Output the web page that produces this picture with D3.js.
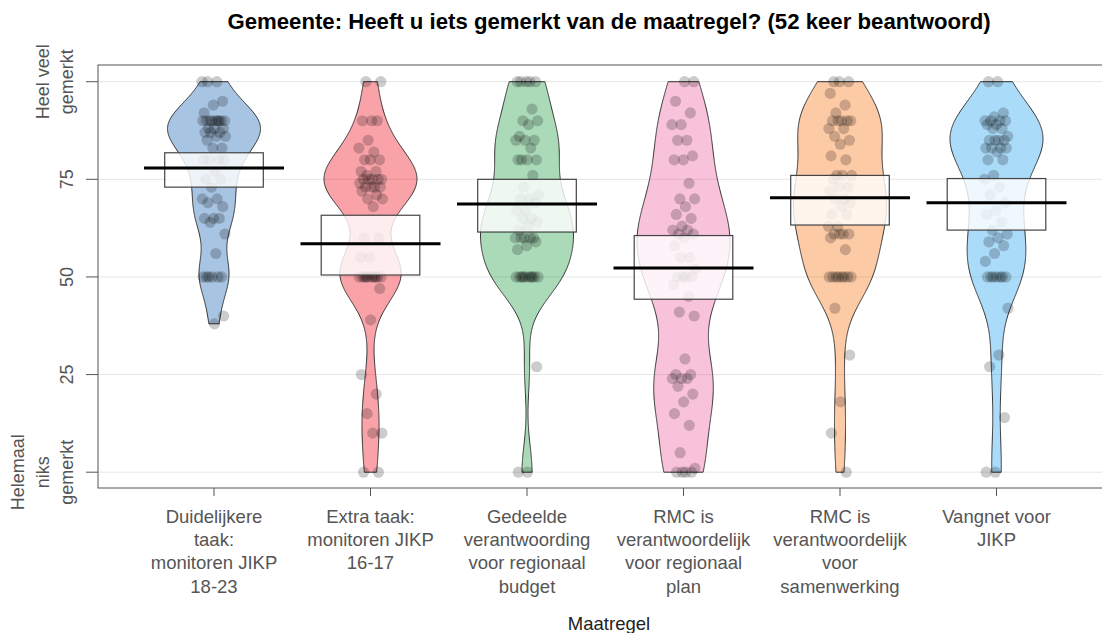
<!DOCTYPE html>
<html lang="en">
<head>
<meta charset="UTF-8">
<title>Gemeente: Heeft u iets gemerkt van de maatregel?</title>
<style>
  body { margin: 0; background: #fff; }
  svg { display: block; font-family: "Liberation Sans", Arial, sans-serif; }
  .grid line { stroke: #e6e6e6; stroke-width: 1; }
  .tick-lab { fill: #555; font-size: 18px; }
  .x-lab { fill: #555; font-size: 18.5px; }
</style>
</head>
<body>
<svg id="chart" width="1102" height="633"></svg>
<script src="https://d3js.org/d3.v7.min.js"></script>
<script>
// categories (x axis), line breaks as in the picture
const categories = [
  "Duidelijkere\ntaak:\nmonitoren JIKP\n18-23",
  "Extra taak:\nmonitoren JIKP\n16-17",
  "Gedeelde\nverantwoording\nvoor regionaal\nbudget",
  "RMC is\nverantwoordelijk\nvoor regionaal\nplan",
  "RMC is\nverantwoordelijk\nvoor\nsamenwerking",
  "Vangnet voor\nJIKP"
];

const duidelijkereTaak = [100,100,100,95,94,92,90,90,90,90,90,90,90,90,90,88,88,88,87,87,87,86,86,85,83,83,80,80,80,80,77,75,75,73,70,70,69,68,65,65,65,64,61,56,50,50,50,50,50,50,40,38];
const extraTaak = [100,100,90,90,90,85,83,82,80,80,80,77,77,76,75,75,75,75,75,74,73,73,73,73,72,71,70,70,68,60,60,55,55,50,50,50,50,50,50,50,50,50,50,47,39,25,20,15,10,10,0,0];
const gedeeldeVerantw = [100,100,100,100,100,93,90,90,89,86,85,85,85,83,80,80,80,80,76,73,71,70,70,69,67,67,65,65,64,63,62,60,60,60,60,60,59,58,57,50,50,50,50,50,50,50,50,50,50,27,0,0];
const rmcPlan = [100,100,95,92,89,89,85,85,81,80,80,74,70,70,68,66,65,63,62,62,61,61,60,58,55,55,52,50,50,50,50,48,45,41,40,29,25,25,24,24,24,22,20,18,15,12,5,1,0,0,0,0];
const rmcSamenwerking = [100,100,100,97,94,92,90,90,90,90,90,88,88,86,85,84,81,80,76,76,76,75,73,73,72,70,70,69,68,66,66,63,63,61,61,61,61,60,57,50,50,50,50,50,50,50,50,42,30,18,10,0];
const vangnet = [100,100,92,91,90,90,90,90,89,89,88,88,86,85,85,85,85,83,83,83,83,82,80,80,76,75,73,71,69,67,66,64,62,61,60,59,58,56,54,50,50,50,50,50,50,50,42,30,27,14,0,0];

// mean line and inference band (HDI) per maatregel, as drawn
const means = [77.9, 58.5, 68.7, 52.3, 70.3, 69.0];
const hdiLow = [73.0, 50.5, 61.5, 44.3, 63.3, 62.0];
const hdiHigh = [81.8, 65.8, 75.0, 60.6, 76.0, 75.2];

const yTicks = [0, 25, 50, 75, 100];
const yTickLabels = ["Helemaal\nniks\ngemerkt", "25", "50", "75", "Heel veel\ngemerkt"];
const palette = ["#0C5BB0", "#EE0011", "#15983D", "#EC579A", "#FA6B09", "#149BED"];

const series = [duidelijkereTaak, extraTaak, gedeeldeVerantw, rmcPlan, rmcSamenwerking, vangnet];

const svg = d3.select("#chart");
const panel = { left: 98, right: 1120, top: 65, bottom: 488 };

const x = d3.scalePoint().domain(d3.range(categories.length)).range([214, 996.5]);
const y = d3.scaleLinear().domain([0, 100]).range([472.2, 81.7]);

const beanHalf = 46.5, bandHalf = 49.3, lineHalf = 70;
const bwAdjust = 0.8;

// grid
svg.append("g").attr("class", "grid")
  .selectAll("line").data(yTicks).join("line")
  .attr("x1", panel.left).attr("x2", panel.right)
  .attr("y1", d => y(d)).attr("y2", d => y(d));

// kernel density like R's density() with bw.nrd0
function bwNrd0(v) {
  const s = d3.deviation(v);
  const sorted = v.slice().sort(d3.ascending);
  const iqr = d3.quantile(sorted, 0.75) - d3.quantile(sorted, 0.25);
  let lo = Math.min(s, iqr / 1.34);
  if (!lo) lo = s || 1;
  return 0.9 * lo * Math.pow(v.length, -0.2);
}
function density(v, bw, at) {
  const k = 1 / Math.sqrt(2 * Math.PI);
  return at.map(t => {
    let sum = 0;
    for (const d of v) { const u = (t - d) / bw; sum += k * Math.exp(-0.5 * u * u); }
    return { v: t, d: sum / (v.length * bw) };
  });
}

const beans = svg.append("g");
series.forEach((vals, i) => {
  const lo = d3.min(vals), hi = d3.max(vals);
  const grid = d3.range(lo, hi, 0.25).concat([hi]);
  const dens = density(vals, bwNrd0(vals) * bwAdjust, grid);
  const maxD = d3.max(dens, d => d.d);
  const cx = x(i);
  const area = d3.area()
    .y(d => y(d.v))
    .x0(d => cx - d.d / maxD * beanHalf)
    .x1(d => cx + d.d / maxD * beanHalf);
  beans.append("path")
    .attr("d", area(dens))
    .attr("fill", palette[i]).attr("fill-opacity", 0.36)
    .attr("stroke", "#333").attr("stroke-width", 1);
});

// points, deterministic horizontal spread
const pts = svg.append("g");
series.forEach((vals, i) => {
  pts.selectAll(null).data(vals).join("circle")
    .attr("cx", (d, j) => x(i) + (((j * 0.6180339887 + i * 0.31) % 1) - 0.5) * 24)
    .attr("cy", d => y(d))
    .attr("r", 5.6)
    .attr("fill", "#000").attr("fill-opacity", 0.2);
});

// inference bands
svg.append("g").selectAll("rect").data(d3.range(series.length)).join("rect")
  .attr("x", i => x(i) - bandHalf).attr("width", bandHalf * 2)
  .attr("y", i => y(hdiHigh[i])).attr("height", i => y(hdiLow[i]) - y(hdiHigh[i]))
  .attr("fill", "#fff").attr("fill-opacity", 0.8)
  .attr("stroke", "#444").attr("stroke-width", 1.2);

// mean lines
svg.append("g").selectAll("line").data(means).join("line")
  .attr("x1", (d, i) => x(i) - lineHalf).attr("x2", (d, i) => x(i) + lineHalf)
  .attr("y1", d => y(d)).attr("y2", d => y(d))
  .attr("stroke", "#000").attr("stroke-width", 3);

// panel box
svg.append("rect")
  .attr("x", panel.left).attr("y", panel.top)
  .attr("width", panel.right - panel.left).attr("height", panel.bottom - panel.top)
  .attr("fill", "none").attr("stroke", "#555").attr("stroke-width", 1);

// y axis ticks and labels
const yAx = svg.append("g");
yAx.selectAll("line").data(yTicks).join("line")
  .attr("x1", panel.left - 12).attr("x2", panel.left)
  .attr("y1", d => y(d)).attr("y2", d => y(d))
  .attr("stroke", "#555");
yTicks.forEach((t, i) => {
  const lines = yTickLabels[i].split("\n");
  lines.forEach((ln, k) => {
    const xx = 67 - (lines.length - 1 - k) * 24.5;
    yAx.append("text").attr("class", "tick-lab")
      .attr("transform", `translate(${xx},${y(t)}) rotate(-90)`)
      .attr("text-anchor", "middle").attr("dominant-baseline", "central")
      .text(ln);
  });
});

// x axis ticks and labels
const xAx = svg.append("g");
categories.forEach((c, i) => {
  xAx.append("line")
    .attr("x1", x(i)).attr("x2", x(i))
    .attr("y1", panel.bottom).attr("y2", panel.bottom + 8)
    .attr("stroke", "#555");
  c.split("\n").forEach((ln, k) => {
    xAx.append("text").attr("class", "x-lab")
      .attr("x", x(i)).attr("y", 516 + k * 23.4)
      .attr("text-anchor", "middle").attr("dominant-baseline", "central")
      .text(ln);
  });
});

svg.append("text")
  .attr("x", 609).attr("y", 623)
  .attr("text-anchor", "middle").attr("dominant-baseline", "central")
  .attr("font-size", 18.5).attr("fill", "#222")
  .text("Maatregel");

svg.append("text")
  .attr("x", 609).attr("y", 21)
  .attr("text-anchor", "middle").attr("dominant-baseline", "central")
  .attr("font-size", 22.2).attr("font-weight", "bold").attr("fill", "#000")
  .text("Gemeente: Heeft u iets gemerkt van de maatregel? (52 keer beantwoord)");
</script>
</body>
</html>
